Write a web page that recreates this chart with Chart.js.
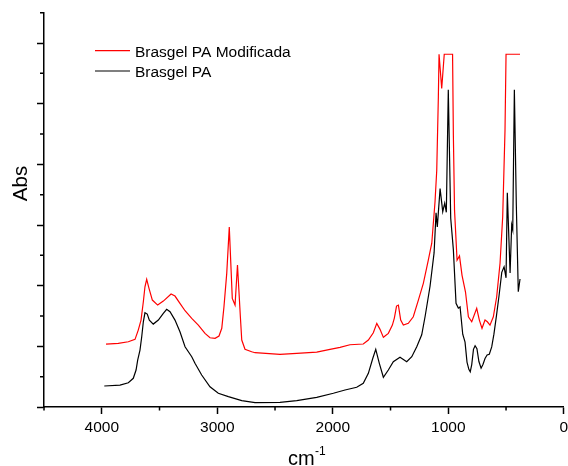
<!DOCTYPE html>
<html>
<head>
<meta charset="utf-8">
<title>Brasgel FTIR</title>
<script src="https://cdn.jsdelivr.net/npm/chart.js@4.4.1/dist/chart.umd.min.js"></script>
<style>
  html, body { margin: 0; padding: 0; background: #fff; overflow: hidden; }
  #wrap { width: 580px; height: 466px; }
</style>
</head>
<body>
<div id="wrap"><canvas id="ftir" width="580" height="466"></canvas></div>
<script>
// series (wavenumber in cm-1, absorbance in plot units)
const seriesNames = ['Brasgel PA Modificada', 'Brasgel PA'];
const seriesColors = ['#ff0000', '#000000'];

const modWave = [3963, 3857, 3770, 3712, 3684, 3660, 3640, 3626, 3611, 3591, 3562, 3516, 3467, 3400, 3366, 3323, 3279, 3221, 3164, 3106,
  3063, 3019, 2985, 2961, 2942, 2918, 2896, 2870, 2846, 2825, 2800, 2788, 2760, 2702, 2673, 2457, 2312, 2139, 2024, 1937,
  1851, 1736, 1692, 1649, 1619, 1591, 1562, 1548, 1519, 1484, 1467, 1448, 1432, 1412, 1389, 1346, 1303, 1259, 1216, 1173,
  1143, 1115, 1100, 1086, 1080, 1057, 1035, 963, 956, 946, 924, 903, 881, 851, 826, 797, 754, 731, 708, 682,
  662, 639, 610, 581, 552, 529, 509, 500, 379];
const modAbs = [1.038, 1.049, 1.076, 1.115, 1.268, 1.433, 1.735, 1.982, 2.104, 1.956, 1.763, 1.68, 1.746, 1.862, 1.829, 1.708, 1.587, 1.461, 1.351, 1.214,
  1.142, 1.132, 1.17, 1.297, 1.652, 2.203, 2.965, 1.791, 1.68, 2.34, 1.488, 1.104, 0.951, 0.911, 0.895, 0.868, 0.885, 0.906, 0.951, 0.984,
  1.026, 1.038, 1.104, 1.224, 1.379, 1.28, 1.148, 1.17, 1.214, 1.351, 1.466, 1.664, 1.68, 1.433, 1.351, 1.379, 1.488, 1.763, 2.038, 2.42,
  2.70, 3.38, 3.90, 5.11, 5.815, 5.25, 5.815, 5.815, 4.48, 3.245, 2.42, 2.49, 2.17, 1.895, 1.488, 1.405, 1.626, 1.433, 1.297, 1.433,
  1.405, 1.35, 1.488, 1.817, 2.37, 3.135, 4.56, 5.815, 5.815];

const paWave = [3978, 3842, 3770, 3727, 3703, 3689, 3669, 3654, 3640, 3626, 3606, 3588, 3554, 3510, 3467, 3438, 3409, 3366, 3323, 3279,
  3221, 3193, 3135, 3063, 2991, 2904, 2788, 2673, 2457, 2312, 2139, 1995, 1894, 1793, 1736, 1692, 1654, 1628, 1597, 1562,
  1519, 1476, 1418, 1360, 1316, 1273, 1230, 1200, 1158, 1123, 1106, 1095, 1071, 1048, 1031, 1017, 1000, 979, 956, 933,
  913, 898, 875, 855, 838, 822, 810, 797, 782, 768, 752, 735, 716, 700, 682, 664, 645, 624, 605, 582,
  561, 537, 517, 500, 489, 465, 451, 442, 428, 411, 394, 379];
const paAbs = [0.346, 0.362, 0.40, 0.473, 0.61, 0.774, 0.939, 1.158, 1.405, 1.553, 1.532, 1.433, 1.367, 1.433, 1.544, 1.61, 1.57, 1.433, 1.24, 0.993,
  0.829, 0.72, 0.527, 0.334, 0.226, 0.17, 0.104, 0.071, 0.077, 0.104, 0.16, 0.226, 0.28, 0.325, 0.39, 0.555, 0.80, 0.95, 0.72, 0.49,
  0.61, 0.746, 0.82, 0.746, 0.829, 0.993, 1.19, 1.50, 1.99, 2.54, 3.20, 2.97, 3.60, 3.22, 3.36, 3.21, 5.23, 3.11, 2.59, 1.71,
  1.63, 1.65, 1.20, 1.07, 0.74, 0.62, 0.58, 0.70, 0.95, 1.01, 0.96, 0.75, 0.64, 0.70, 0.80, 0.857, 0.87, 0.99, 1.2, 1.52,
  1.83, 2.22, 2.31, 2.13, 3.53, 2.21, 3.00, 2.92, 5.23, 3.33, 1.90, 2.11];

const xMajorTicks = [4000, 3000, 2000, 1000, 0];
const xMinorTicks = [4500, 3500, 2500, 1500, 500];
const yMajorTicks = [0, 1, 2, 3, 4, 5, 6];
const yMinorTicks = [0.5, 1.5, 2.5, 3.5, 4.5, 5.5, 6.5];

const FONT = '"Liberation Sans", Arial, sans-serif';

function toPoints(xs, ys) {
    return xs.map((x, i) => ({ x: x, y: ys[i] }));
}

// minor ticks, legend inside the plot and the two axis titles
const decorPlugin = {
    id: 'decor',
    afterDraw(chart) {
        const { ctx, chartArea: a, scales } = chart;
        const xs = scales.x, ys = scales.y;
        ctx.save();

        ctx.strokeStyle = '#000';
        ctx.lineWidth = 1.5;
        ctx.beginPath();
        xMinorTicks.forEach(v => {
            const px = xs.getPixelForValue(v);
            ctx.moveTo(px, a.bottom);
            ctx.lineTo(px, a.bottom + 3.5);
        });
        yMinorTicks.forEach(v => {
            const py = ys.getPixelForValue(v);
            ctx.moveTo(a.left, py);
            ctx.lineTo(a.left - 4, py);
        });
        ctx.stroke();

        // legend
        ctx.font = '15.5px ' + FONT;
        ctx.textAlign = 'left';
        ctx.textBaseline = 'alphabetic';
        chart.data.datasets.forEach((ds, i) => {
            const ly = a.top + 38 + i * 20.3;
            ctx.strokeStyle = ds.borderColor;
            ctx.lineWidth = 1.2;
            ctx.beginPath();
            ctx.moveTo(a.left + 51, ly);
            ctx.lineTo(a.left + 86, ly);
            ctx.stroke();
            ctx.fillStyle = '#000';
            ctx.fillText(ds.label, a.left + 91, ly + 6);
        });

        // y title
        ctx.save();
        ctx.translate(27.3, 183.5);
        ctx.rotate(-Math.PI / 2);
        ctx.font = '20.5px ' + FONT;
        ctx.textAlign = 'center';
        ctx.fillStyle = '#000';
        ctx.fillText('Abs', 0, 0);
        ctx.restore();

        // x title with superscript
        ctx.font = '20px ' + FONT;
        ctx.textAlign = 'left';
        ctx.fillStyle = '#000';
        ctx.fillText('cm', 288, 465);
        ctx.font = '12px ' + FONT;
        ctx.fillText('-1', 315, 455);

        ctx.restore();
    }
};

const ctx = document.getElementById('ftir').getContext('2d');
new Chart(ctx, {
    type: 'line',
    data: {
        datasets: [
            {
                label: seriesNames[0],
                data: toPoints(modWave, modAbs),
                borderColor: seriesColors[0],
                borderWidth: 1.2,
                pointRadius: 0,
                tension: 0,
                fill: false
            },
            {
                label: seriesNames[1],
                data: toPoints(paWave, paAbs),
                borderColor: seriesColors[1],
                borderWidth: 1.2,
                pointRadius: 0,
                tension: 0,
                fill: false
            }
        ]
    },
    options: {
        responsive: false,
        animation: false,
        layout: { padding: { left: 37, right: 16.2, top: 12.7, bottom: 25.4 } },
        plugins: { legend: { display: false }, tooltip: { enabled: false } },
        scales: {
            x: {
                type: 'linear',
                reverse: true,
                min: 0,
                max: 4500,
                afterBuildTicks: axis => { axis.ticks = xMajorTicks.map(v => ({ value: v })); },
                ticks: {
                    autoSkip: false,
                    maxRotation: 0,
                    padding: 4,
                    color: '#000',
                    font: { family: FONT, size: 15.5 },
                    callback: v => String(v)
                },
                grid: { drawOnChartArea: false, drawTicks: true, tickLength: 7, tickColor: '#000', tickWidth: 1.5 },
                border: { display: true, color: '#000', width: 1.5 }
            },
            y: {
                type: 'linear',
                min: 0,
                max: 6.5,
                afterBuildTicks: axis => { axis.ticks = yMajorTicks.map(v => ({ value: v })); },
                ticks: { display: false },
                grid: { drawOnChartArea: false, drawTicks: true, tickLength: 7, tickColor: '#000', tickWidth: 1.5 },
                border: { display: true, color: '#000', width: 1.5 }
            }
        }
    },
    plugins: [decorPlugin]
});
</script>
</body>
</html>
